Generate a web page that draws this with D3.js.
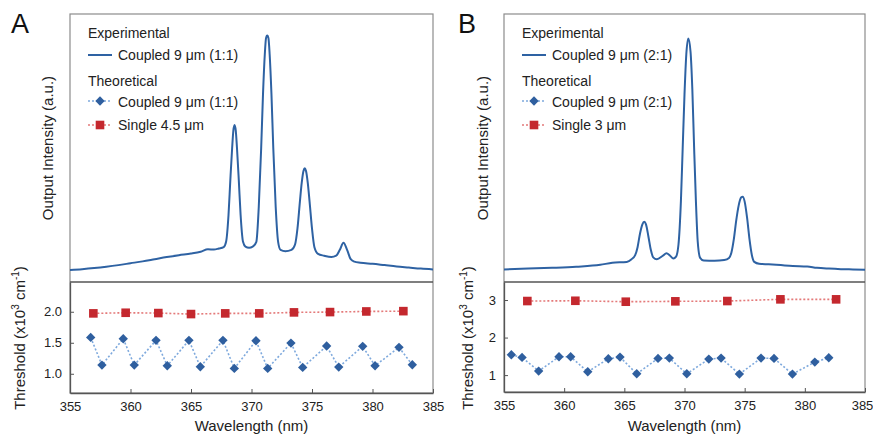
<!DOCTYPE html>
<html><head><meta charset="utf-8">
<script src="https://cdn.jsdelivr.net/npm/d3@7"></script>
<style>body{margin:0;background:#fff}svg{display:block;font-family:"Liberation Sans",Arial,sans-serif}</style>
</head><body><svg id="c" width="873" height="437"></svg>
<script>
const xTicks = [355, 360, 365, 370, 375, 380, 385];
const thrTicksA = [1.0, 1.5, 2.0];
const thrTicksB = [1, 2, 3];
const thrTickFmtA = ["1.0", "1.5", "2.0"];
const thrTickFmtB = ["1", "2", "3"];

// Experimental spectrum, panel A (wavelength nm, intensity a.u.)
const specA = [
  [355.0,0.045],[356,0.048],[357,0.052],[358,0.057],[359,0.063],[360,0.070],[361,0.077],[362,0.085],
  [363,0.093],[364,0.100],[365,0.106],[365.8,0.113],[366.4,0.122],[366.9,0.121],[367.3,0.125],[367.7,0.130],
  [367.9,0.15],[368.1,0.25],[368.25,0.38],[368.4,0.50],[368.5,0.565],[368.6,0.586],[368.7,0.565],[368.8,0.50],
  [368.95,0.38],[369.1,0.25],[369.3,0.15],[369.5,0.132],[369.8,0.128],[370.1,0.132],
  [370.4,0.15],[370.6,0.28],[370.8,0.50],[370.95,0.70],[371.1,0.85],[371.2,0.91],[371.3,0.92],[371.4,0.91],
  [371.5,0.85],[371.65,0.70],[371.8,0.50],[372.0,0.28],[372.2,0.15],[372.4,0.12],[372.8,0.115],[373.3,0.12],
  [373.6,0.14],[373.8,0.20],[374.0,0.30],[374.15,0.37],[374.3,0.415],[374.4,0.424],[374.5,0.415],[374.65,0.37],
  [374.8,0.30],[375.0,0.20],[375.2,0.13],[375.5,0.105],[376,0.098],[376.6,0.093],[377.0,0.098],[377.3,0.12],
  [377.6,0.146],[377.9,0.12],[378.2,0.085],[378.5,0.076],[379,0.072],[380,0.068],[381,0.063],[382,0.058],
  [383,0.054],[384,0.050],[385,0.047]
];
// Experimental spectrum, panel B
const specB = [
  [355.0,0.047],[357,0.050],[359,0.053],[361,0.057],[363,0.064],[364,0.072],[365.2,0.075],[365.6,0.085],
  [365.9,0.10],[366.1,0.13],[366.3,0.18],[366.5,0.215],[366.65,0.225],[366.8,0.215],[367.0,0.17],[367.2,0.12],
  [367.4,0.092],[367.7,0.085],[368.2,0.098],[368.5,0.107],[368.8,0.098],[369.07,0.088],[369.3,0.095],
  [369.5,0.14],[369.7,0.30],[369.85,0.50],[370.0,0.70],[370.15,0.85],[370.32,0.909],[370.5,0.86],[370.65,0.72],
  [370.8,0.50],[370.95,0.30],[371.1,0.15],[371.3,0.09],[371.6,0.08],[372.5,0.079],[373.3,0.082],[373.7,0.09],
  [373.9,0.11],[374.1,0.16],[374.3,0.23],[374.5,0.285],[374.7,0.315],[374.84,0.318],[375.0,0.30],[375.2,0.24],
  [375.4,0.16],[375.6,0.10],[375.8,0.075],[376.2,0.068],[377,0.066],[378,0.063],[379,0.060],[380.2,0.058],
  [381,0.053],[382,0.050],[383,0.048],[384,0.047],[385,0.046]
];

// Theoretical thresholds (x10^3 cm^-1)
const coupledA_wl = [356.71,357.64,359.40,360.31,362.11,363.04,364.83,365.77,367.64,368.58,370.37,371.34,373.26,374.23,376.21,377.21,379.19,380.21,382.19,383.29];
const coupledA_th = [1.587,1.14,1.565,1.14,1.539,1.129,1.539,1.113,1.539,1.087,1.532,1.087,1.495,1.103,1.447,1.108,1.442,1.129,1.426,1.145];
const singleA_wl = [356.93,359.60,362.30,365.00,367.83,370.64,373.51,376.49,379.49,382.55];
const singleA_th = [1.974,1.984,1.979,1.963,1.974,1.974,1.99,1.995,2.005,2.01];

const coupledB_wl = [355.61,356.50,357.88,359.57,360.54,361.96,363.67,364.64,366.03,367.80,368.74,370.19,372.02,373.04,374.56,376.36,377.44,378.97,380.83,381.99];
const coupledB_th = [1.541,1.472,1.107,1.488,1.488,1.088,1.435,1.48,1.035,1.445,1.453,1.035,1.427,1.453,1.027,1.453,1.445,1.027,1.347,1.461];
const singleB_wl = [356.94,360.93,365.12,369.24,373.56,377.97,382.60];
const singleB_th = [2.973,2.98,2.955,2.965,2.973,3.018,3.018];

const legendA = ["Experimental", "Coupled 9 μm (1:1)", "Theoretical", "Coupled 9 μm (1:1)", "Single 4.5 μm"];
const legendB = ["Experimental", "Coupled 9 μm (2:1)", "Theoretical", "Coupled 9 μm (2:1)", "Single 3 μm"];

const C = {line:"#2e62a3", dia:"#2f5f9f", diaLine:"#7ea9dd", sq:"#c4282e", sqLine:"#e47a7a",
           frame:"#8c8c8c", axis:"#555", text:"#222"};

const svg = d3.select("#c");

function panel(o){
  const g = svg.append("g");
  const x = d3.scaleLinear().domain([355,385]).range([o.left,o.right]);
  const yT = d3.scaleLinear().domain([0,1]).range([o.mid,o.top]);
  const yB = d3.scaleLinear().domain(o.thrDomain).range([o.bottom,o.mid]);

  // frame
  g.append("rect").attr("x",o.left).attr("y",o.top).attr("width",o.right-o.left).attr("height",o.bottom-o.top)
    .attr("fill","none").attr("stroke",C.frame).attr("stroke-width",1.2);

  // spectrum
  g.append("path").datum(o.spec).attr("fill","none").attr("stroke",C.line).attr("stroke-width",2)
    .attr("stroke-linejoin","round")
    .attr("d", d3.line().x(d=>x(d[0])).y(d=>yT(d[1])).curve(d3.curveMonotoneX));

  // divider
  g.append("line").attr("x1",o.left).attr("x2",o.right).attr("y1",o.mid).attr("y2",o.mid)
    .attr("stroke",C.axis).attr("stroke-width",1.3);

  // axes (ticks inward)
  const xa = g.append("g").attr("transform",`translate(0,${o.bottom})`)
    .call(d3.axisBottom(x).tickValues(xTicks).tickSizeInner(-4).tickSizeOuter(0).tickPadding(9).tickFormat(d3.format("d")));
  xa.select(".domain").attr("stroke",C.axis).attr("stroke-width",1.3);
  xa.selectAll(".tick line").attr("stroke",C.axis);
  xa.selectAll("text").attr("font-size",13).attr("fill",C.text).attr("font-family","Liberation Sans, Arial, sans-serif");
  if (o.lastShift) xa.selectAll("text").filter(d=>d===385).attr("dx",o.lastShift);

  const ya = g.append("g").attr("transform",`translate(${o.left},0)`)
    .call(d3.axisLeft(yB).tickValues(o.thrTicks).tickSizeInner(-4).tickSizeOuter(0).tickPadding(8)
      .tickFormat((d,i)=>o.thrFmt[i]));
  ya.select(".domain").attr("stroke",C.axis).attr("stroke-width",1.3);
  ya.selectAll(".tick line").attr("stroke",C.axis);
  ya.selectAll("text").attr("font-size",13).attr("fill",C.text).attr("font-family","Liberation Sans, Arial, sans-serif");

  // theoretical series
  const single = o.sWl.map((w,i)=>[w,o.sTh[i]]);
  const coupled = o.cWl.map((w,i)=>[w,o.cTh[i]]);
  const ln = d3.line().x(d=>x(d[0])).y(d=>yB(d[1]));
  g.append("path").datum(single).attr("d",ln).attr("fill","none").attr("stroke",C.sqLine)
    .attr("stroke-width",1.6).attr("stroke-dasharray","2,2");
  g.append("path").datum(coupled).attr("d",ln).attr("fill","none").attr("stroke",C.diaLine)
    .attr("stroke-width",1.6).attr("stroke-dasharray","2,2");
  g.selectAll(".sq").data(single).join("rect").attr("x",d=>x(d[0])-4.3).attr("y",d=>yB(d[1])-4.3)
    .attr("width",8.6).attr("height",8.6).attr("fill",C.sq);
  const dia = d3.symbol().type(d3.symbolDiamond2).size(56);
  g.selectAll(".dia").data(coupled).join("path").attr("d",dia)
    .attr("transform",d=>`translate(${x(d[0])},${yB(d[1])})`).attr("fill",C.dia);

  // axis titles
  g.append("text").attr("x",(o.left+o.right)/2).attr("y",431).attr("text-anchor","middle")
    .attr("font-size",15).attr("fill",C.text).text("Wavelength (nm)");
  g.append("text").attr("transform",`translate(${o.left-o.oiOff},148) rotate(-90)`).attr("text-anchor","middle")
    .attr("font-size",15).attr("fill",C.text).text("Output Intensity (a.u.)");
  const th = g.append("text").attr("transform",`translate(${o.left-o.thOff},338) rotate(-90)`).attr("text-anchor","middle")
    .attr("font-size",15).attr("fill",C.text);
  th.append("tspan").text("Threshold (x10");
  th.append("tspan").attr("font-size",10).attr("dy",-6).text("3");
  th.append("tspan").attr("dy",6).text(" cm");
  th.append("tspan").attr("font-size",10).attr("dy",-6).text("-1");
  th.append("tspan").attr("dy",6).text(")");

  // panel letter
  g.append("text").attr("x",o.letterX).attr("y",33).attr("font-size",27).attr("fill","#111").text(o.letter);

  // legend
  const lx = o.left+18, L = o.legend;
  const fs = 14;
  g.append("text").attr("x",lx).attr("y",38).attr("font-size",fs).attr("fill",C.text).text(L[0]);
  g.append("line").attr("x1",lx).attr("x2",lx+24).attr("y1",55).attr("y2",55).attr("stroke",C.line).attr("stroke-width",2);
  g.append("text").attr("x",lx+30).attr("y",60).attr("font-size",fs).attr("fill",C.text).text(L[1]);
  g.append("text").attr("x",lx).attr("y",86).attr("font-size",fs).attr("fill",C.text).text(L[2]);
  g.append("line").attr("x1",lx).attr("x2",lx+24).attr("y1",101).attr("y2",101).attr("stroke",C.diaLine)
    .attr("stroke-width",1.6).attr("stroke-dasharray","2,2");
  g.append("path").attr("d",dia).attr("transform",`translate(${lx+12},101)`).attr("fill",C.dia);
  g.append("text").attr("x",lx+30).attr("y",107).attr("font-size",fs).attr("fill",C.text).text(L[3]);
  g.append("line").attr("x1",lx).attr("x2",lx+24).attr("y1",125).attr("y2",125).attr("stroke",C.sqLine)
    .attr("stroke-width",1.6).attr("stroke-dasharray","2,2");
  g.append("rect").attr("x",lx+12-4.3).attr("y",125-4.3).attr("width",8.6).attr("height",8.6).attr("fill",C.sq);
  g.append("text").attr("x",lx+30).attr("y",130).attr("font-size",fs).attr("fill",C.text).text(L[4]);
}

panel({left:70,right:433,top:14,mid:282,bottom:393,thrDomain:[0.69,2.48],thrTicks:thrTicksA,thrFmt:thrTickFmtA,
  spec:specA,cWl:coupledA_wl,cTh:coupledA_th,sWl:singleA_wl,sTh:singleA_th,legend:legendA,letter:"A",letterX:11,
  oiOff:17,thOff:45,lastShift:0});
panel({left:504,right:865,top:14,mid:282,bottom:392,thrDomain:[0.55,3.48],thrTicks:thrTicksB,thrFmt:thrTickFmtB,
  spec:specB,cWl:coupledB_wl,cTh:coupledB_th,sWl:singleB_wl,sTh:singleB_th,legend:legendB,letter:"B",letterX:458,
  oiOff:16,thOff:31,lastShift:-3});
</script></body></html>
